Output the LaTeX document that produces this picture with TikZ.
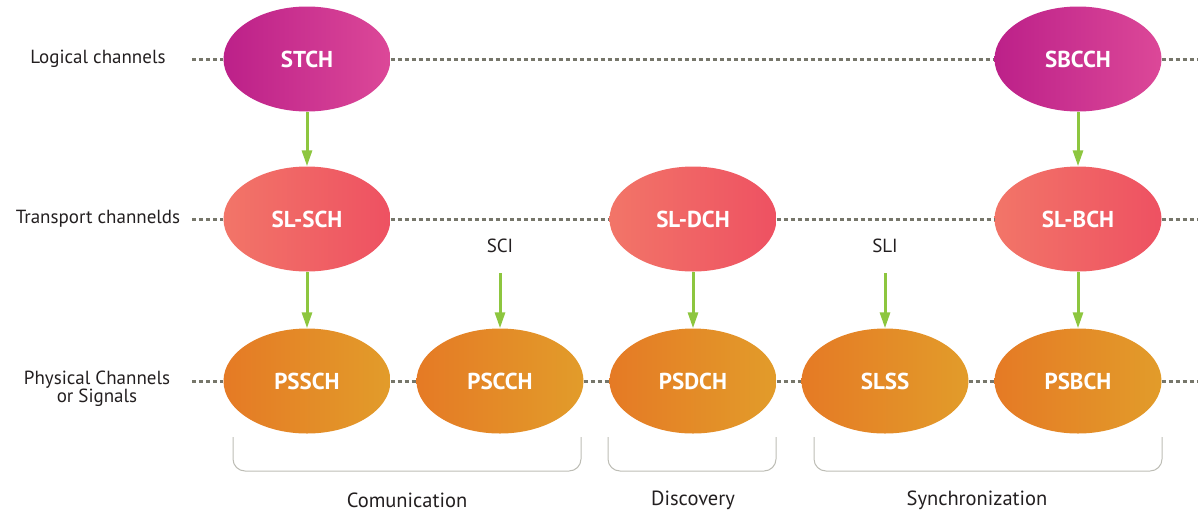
\documentclass[tikz,border=0pt]{standalone}
\usepackage{fontspec}
\setmainfont{PT Sans}
\usetikzlibrary{shapes.geometric,arrows.meta}

\definecolor{txt}{HTML}{231F20}
\definecolor{dotgray}{HTML}{76766A}
\definecolor{flow}{HTML}{8DC63F}
\definecolor{brace}{HTML}{BDBDB5}
\definecolor{logA}{HTML}{BC2089}
\definecolor{logB}{HTML}{DC4898}
\definecolor{traA}{HTML}{F27568}
\definecolor{traB}{HTML}{EE5162}
\definecolor{phyA}{HTML}{E57A25}
\definecolor{phyB}{HTML}{E29C2A}

\tikzset{
  chan/.style={ellipse, minimum width=167pt, minimum height=105pt, inner sep=0pt,
    text=white, font=\fontsize{23}{24}\selectfont\bfseries},
  logical/.style={chan, left color=logA, right color=logB},
  transport/.style={chan, left color=traA, right color=traB},
  physical/.style={chan, left color=phyA, right color=phyB},
  level/.style={dotgray, line width=3pt, dash pattern=on 4pt off 3pt},
  flowarrow/.style={flow, line width=3pt, -{Triangle[length=16pt,width=10pt]}},
  rowlabel/.style={text=txt, align=center, inner sep=1pt, font=\fontsize{19}{16.5}\selectfont},
  grouplabel/.style={text=txt, font=\fontsize{20.5}{22}\selectfont},
  groupbrace/.style={brace, line width=1pt, rounded corners=12pt},
}

\begin{document}
\begin{tikzpicture}[x=1pt, y=-1pt]
\useasboundingbox (0,0) rectangle (1204,512);

% row labels
\node[rowlabel] (lablog) at (98,59) {Logical channels};
\node[rowlabel] (labtra) at (98,219) {Transport channelds};
\node[rowlabel] (labphy) at (97,389) {Physical Channels\\or Signals};
\coordinate (l1) at (192,59);
\coordinate (l2) at (192,219);
\coordinate (l3) at (192,381);
\coordinate (r1) at (1198,59);
\coordinate (r2) at (1198,219);
\coordinate (r3) at (1198,381);

% channels
\node[logical] (stch) at (307,59) {STCH};
\node[logical] (sbcch) at (1078,59) {SBCCH};

\node[transport] (slsch) at (307,219) {SL-SCH};
\node[transport] (sldch) at (693,219) {SL-DCH};
\node[transport] (slbch) at (1078,219) {SL-BCH};

\node[physical] (pssch) at (307,381) {PSSCH};
\node[physical] (pscch) at (500,381) {PSCCH};
\node[physical] (psdch) at (693,381) {PSDCH};
\node[physical] (slss) at (885,381) {SLSS};
\node[physical] (psbch) at (1078,381) {PSBCH};

% dotted level lines
\draw[level] (l1) -- (stch.west);
\draw[level] (stch.east) -- (sbcch.west);
\draw[level] (sbcch.east) -- (r1);

\draw[level] (l2) -- (slsch.west);
\draw[level] (slsch.east) -- (sldch.west);
\draw[level] (sldch.east) -- (slbch.west);
\draw[level] (slbch.east) -- (r2);

\draw[level] (l3) -- (pssch.west);
\draw[level] (pssch.east) -- (pscch.west);
\draw[level] (pscch.east) -- (psdch.west);
\draw[level] (psdch.east) -- (slss.west);
\draw[level] (slss.east) -- (psbch.west);
\draw[level] (psbch.east) -- (r3);

% control information
\node[rowlabel] (sci) at (500,246) {SCI};
\node[rowlabel] (sli) at (885,246) {SLI};
\coordinate (scistart) at (500,273);
\coordinate (slistart) at (885,273);

% mapping arrows
\draw[flowarrow] (stch.south) -- (slsch.north);
\draw[flowarrow] (sbcch.south) -- (slbch.north);
\draw[flowarrow] (slsch.south) -- (pssch.north);
\draw[flowarrow] (sldch.south) -- (psdch.north);
\draw[flowarrow] (slbch.south) -- (psbch.north);
\draw[flowarrow] (scistart) -- (pscch.north);
\draw[flowarrow] (slistart) -- (slss.north);

% groups
\draw[groupbrace] (233,437) -- (233,471) -- (581,471) -- (581,437);
\draw[groupbrace] (608,437) -- (608,471) -- (776,471) -- (776,437);
\draw[groupbrace] (814,437) -- (814,471) -- (1162,471) -- (1162,437);
\node[grouplabel] (gcom) at (407,500) {Comunication};
\node[grouplabel] (gdis) at (693,500) {Discovery};
\node[grouplabel] (gsyn) at (977,500) {Synchronization};
\end{tikzpicture}
\end{document}
